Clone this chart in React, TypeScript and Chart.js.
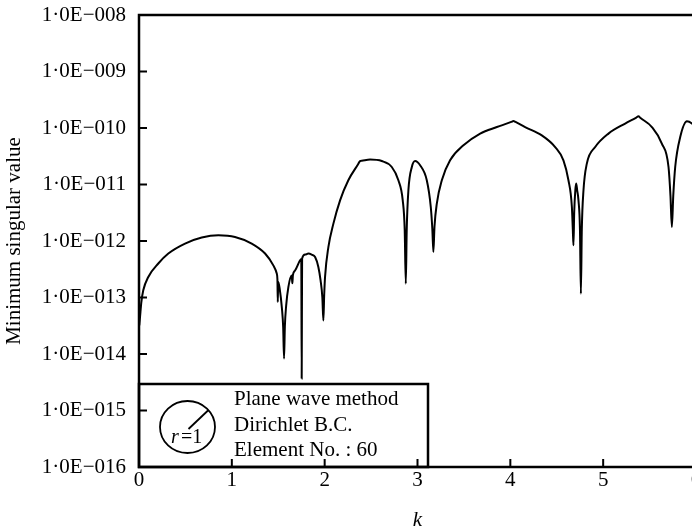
import React, { useEffect, useRef } from 'react';
import { Chart, registerables } from 'chart.js';

Chart.register(...registerables);

// Wave number k and the minimum singular value of the system matrix
const kValues = [
  0.003, 0.011, 0.025, 0.046, 0.1, 0.208, 0.316, 0.496, 0.676, 0.855, 1.034, 1.214, 1.358, 1.447,
  1.484, 1.491, 1.495, 1.499, 1.515, 1.54, 1.553, 1.5625, 1.571, 1.585, 1.609, 1.645, 1.652, 1.658,
  1.681, 1.735, 1.748, 1.7525, 1.757, 1.79, 1.824, 1.86, 1.897, 1.932, 1.956, 1.975, 1.986, 1.995,
  2.004, 2.04, 2.094, 2.166, 2.255, 2.36, 2.381, 2.4, 2.489, 2.615, 2.723, 2.794, 2.841,
  2.862, 2.874, 2.884, 2.902, 2.939, 2.974, 3.028, 3.1, 3.143, 3.16, 3.171, 3.183, 3.208, 3.262,
  3.351, 3.495, 3.675, 3.855, 4.01, 4.033, 4.056, 4.159, 4.339, 4.483, 4.572, 4.626, 4.663, 4.673,
  4.68, 4.688, 4.7, 4.709, 4.72, 4.734, 4.75, 4.76, 4.77, 4.788, 4.824, 4.914, 5.057, 5.237, 5.357,
  5.38, 5.403, 5.525, 5.632, 5.704, 5.725, 5.74, 5.755, 5.776, 5.83, 5.902, 5.956, 6.0,
];

const minSingularValues = [
  3.2e-14, 4.5e-14, 8.2e-14, 1.34e-13, 2.31e-13, 4.0e-13, 6.0e-13, 9.0e-13, 1.15e-12, 1.26e-12,
  1.18e-12, 9.0e-13, 6.0e-13, 3.7e-13, 2.65e-13, 2.1e-13, 8.3e-14, 1.9e-13, 1.45e-13, 6.3e-14,
  3.0e-14, 8.3e-15, 3.0e-14, 7.1e-14, 1.53e-13, 2.45e-13, 1.78e-13, 2.5e-13, 3.0e-13, 4.55e-13,
  4.8e-13, 3.7e-15, 4.9e-13, 5.75e-13, 6.0e-13, 5.75e-13, 5.2e-13, 3.47e-13, 2.0e-13, 1.0e-13,
  3.9e-14, 1.12e-13, 2.3e-13, 7.8e-13, 2.03e-12, 5.25e-12, 1.19e-11, 2.28e-11, 2.6e-11,
  2.64e-11, 2.76e-11, 2.6e-11, 2.04e-11, 1.19e-11, 5.25e-12, 1.6e-12, 1.76e-13, 1.6e-12, 7.9e-12,
  2.04e-11, 2.6e-11, 2.19e-11, 1.19e-11, 4.0e-12, 1.6e-12, 6.4e-13, 1.8e-12, 4.6e-12, 1.19e-11,
  2.68e-11, 4.94e-11, 7.96e-11, 1.04e-10, 1.28e-10, 1.33e-10, 1.28e-10, 1.04e-10, 7.4e-11, 4.6e-11,
  2.68e-11, 1.19e-11, 4.0e-12, 1.6e-12, 8.4e-13, 3.2e-12, 7.9e-12, 1.04e-11, 7.9e-12, 5.25e-12,
  1.6e-12, 1.17e-13, 1.6e-12, 7.9e-12, 2.34e-11, 4.6e-11, 7.96e-11, 1.2e-10, 1.53e-10, 1.61e-10,
  1.5e-10, 1.04e-10, 5.3e-11, 2.04e-11, 6.3e-12, 1.77e-12, 6.3e-12, 2.04e-11, 6.9e-11, 1.31e-10,
  1.2e-10, 1.0e-10,
];

const xTickValues = [0, 1, 2, 3, 4, 5, 6];
const yTickValues = [1e-16, 1e-15, 1e-14, 1e-13, 1e-12, 1e-11, 1e-10, 1e-9, 1e-8];
const yTickLabels = [
  '1·0E−016', '1·0E−015', '1·0E−014', '1·0E−013', '1·0E−012',
  '1·0E−011', '1·0E−010', '1·0E−009', '1·0E−008',
];
const legendLines = ['Plane wave method', 'Dirichlet B.C.', 'Element No. : 60'];
const radiusSymbol = 'r';
const radiusValue = '=1';

const SERIF = '"Liberation Serif", "Times New Roman", serif';
const FONT_SIZE = 21;
const VIEW_W = 692;
const VIEW_H = 531;
const CANVAS_W = 712;

// Frame, inward tick marks and the boxed annotation in the lower-left corner
const framePlugin = {
  id: 'frameAndNote',
  afterDatasetsDraw(chart: any) {
    const { ctx, chartArea, scales } = chart;
    const { left, right, top, bottom } = chartArea;
    const xs = scales.x;
    const ys = scales.y;
    ctx.save();

    // annotation box
    const boxW = 289;
    const boxH = 83;
    ctx.fillStyle = '#fff';
    ctx.fillRect(left, bottom - boxH, boxW, boxH);
    ctx.strokeStyle = '#000';
    ctx.lineWidth = 2.5;
    ctx.strokeRect(left, bottom - boxH, boxW, boxH);

    // circle with radius line
    const cx = left + 48.5;
    const cy = bottom - 40;
    ctx.lineWidth = 1.8;
    ctx.beginPath();
    ctx.ellipse(cx, cy, 27.5, 26, 0, 0, Math.PI * 2);
    ctx.stroke();
    ctx.beginPath();
    ctx.moveTo(cx + 1, cy + 2);
    ctx.lineTo(cx + 21, cy - 17);
    ctx.stroke();

    ctx.fillStyle = '#000';
    ctx.textBaseline = 'alphabetic';
    ctx.textAlign = 'left';
    ctx.font = `italic ${FONT_SIZE - 1}px ${SERIF}`;
    ctx.fillText(radiusSymbol, left + 32, bottom - 24);
    ctx.font = `${FONT_SIZE - 1}px ${SERIF}`;
    ctx.fillText(radiusValue, left + 42, bottom - 24);

    ctx.font = `${FONT_SIZE}px ${SERIF}`;
    const baselines = [bottom - 62, bottom - 36, bottom - 11];
    legendLines.forEach((line, i) => ctx.fillText(line, left + 95, baselines[i]));

    // inward ticks
    ctx.lineWidth = 2;
    ctx.beginPath();
    yTickValues.forEach((v) => {
      const py = ys.getPixelForValue(v);
      ctx.moveTo(left, py);
      ctx.lineTo(left + 8, py);
    });
    xTickValues.forEach((v) => {
      const px = xs.getPixelForValue(v);
      ctx.moveTo(px, bottom);
      ctx.lineTo(px, bottom - 8);
    });
    ctx.stroke();

    // frame
    ctx.lineWidth = 2.5;
    ctx.strokeRect(left, top, right - left, bottom - top);
    ctx.restore();
  },
};

export default function App() {
  const canvasRef = useRef<HTMLCanvasElement | null>(null);

  useEffect(() => {
    const canvas = canvasRef.current;
    if (!canvas) return;
    const tickFont = { family: SERIF, size: FONT_SIZE };
    const chart = new Chart(canvas, {
      type: 'line',
      data: {
        datasets: [
          {
            data: kValues.map((k, i) => ({ x: k, y: minSingularValues[i] })),
            borderColor: '#000',
            borderWidth: 2,
            pointRadius: 0,
            cubicInterpolationMode: 'monotone',
            fill: false,
          },
        ],
      },
      options: {
        responsive: false,
        animation: false,
        devicePixelRatio: 1,
        layout: { padding: { left: 0, top: 15, right: CANVAS_W - 696, bottom: 0 } },
        plugins: { legend: { display: false }, tooltip: { enabled: false } },
        scales: {
          x: {
            type: 'linear',
            position: 'bottom',
            min: 0,
            max: 6,
            afterFit: (s: any) => {
              s.height = 64;
              s.paddingLeft = 0;
              s.paddingRight = 0;
            },
            afterBuildTicks: (s: any) => {
              s.ticks = xTickValues.map((v) => ({ value: v }));
            },
            ticks: {
              font: tickFont,
              color: '#000',
              padding: 1,
              maxRotation: 0,
              autoSkip: false,
              callback: (v: any) => String(v),
            },
            grid: { display: false, drawTicks: false },
            border: { display: false },
            title: {
              display: true,
              text: 'k',
              color: '#000',
              font: { family: SERIF, size: FONT_SIZE, style: 'italic', lineHeight: 1 },
              padding: { top: 0, bottom: 0 },
            },
          },
          y: {
            type: 'logarithmic',
            min: 1e-16,
            max: 1e-8,
            afterFit: (s: any) => {
              s.width = 139;
              s.paddingTop = 0;
              s.paddingBottom = 0;
            },
            afterBuildTicks: (s: any) => {
              s.ticks = yTickValues.map((v) => ({ value: v }));
            },
            ticks: {
              font: tickFont,
              color: '#000',
              padding: 13,
              autoSkip: false,
              callback: (_v: any, i: number) => yTickLabels[i],
            },
            grid: { display: false, drawTicks: false },
            border: { display: false },
            title: {
              display: true,
              text: 'Minimum singular value',
              color: '#000',
              font: { family: SERIF, size: FONT_SIZE, lineHeight: 1 },
              padding: { top: 4, bottom: 0 },
            },
          },
        },
      },
      plugins: [framePlugin],
    });
    return () => chart.destroy();
  }, []);

  return (
    <div
      style={{
        position: 'fixed',
        left: 0,
        top: 0,
        width: VIEW_W,
        height: VIEW_H,
        overflow: 'hidden',
        background: '#fff',
      }}
    >
      <canvas ref={canvasRef} width={CANVAS_W} height={VIEW_H} style={{ display: 'block' }} />
    </div>
  );
}
